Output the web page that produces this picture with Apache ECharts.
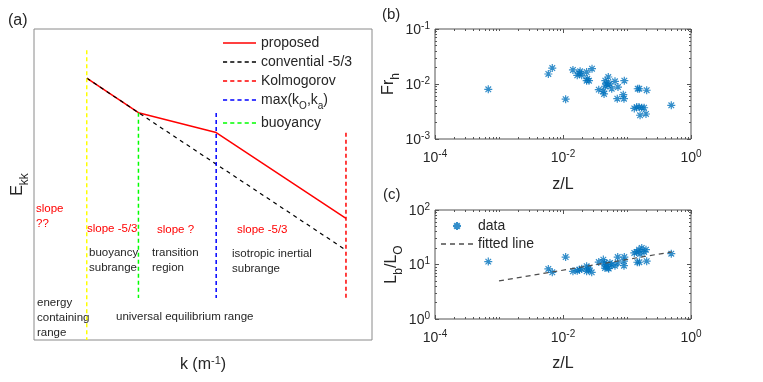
<!DOCTYPE html>
<html><head><meta charset="utf-8">
<script src="https://cdn.jsdelivr.net/npm/echarts@6/dist/echarts.min.js"></script>
<style>html,body{margin:0;padding:0;background:#fff}#c{width:763px;height:382px}</style>
</head><body><div id="c"></div>
<script>
// ---------- Panel (a): schematic spectrum (arbitrary units 0..100) ----------
const proposedK = [15.6, 30.9, 53.9, 92.3];
const proposedE = [84.2, 73.1, 66.7, 39.1];
const conventionalK = [15.6, 30.9, 92.3];
const conventionalE = [84.2, 73.1, 28.9];
const boundaryNames = ['energy boundary', 'buoyancy', 'max(kO,ka)', 'Kolmogorov'];
const boundaryK = [15.6, 30.9, 53.9, 92.3];
const boundaryTop = [93.2, 73.1, 73.0, 66.6];
const boundaryBottom = [0, 13.5, 13.5, 13.5];

// ---------- Panel (b): Fr_h vs z/L ----------
const frZ = [6.8e-4, 5.9e-3, 6.8e-3, 0.0110, 0.0143, 0.0167, 0.0180, 0.0196, 0.0185, 0.0234, 0.0284, 0.0240, 0.0255, 0.0234, 0.0362, 0.0438, 0.0427, 0.0458, 0.0510, 0.0482, 0.0542, 0.0505, 0.0577, 0.0453, 0.0649, 0.0723, 0.0908, 0.0705, 0.0875, 0.0897, 0.147, 0.156, 0.203, 0.130, 0.142, 0.154, 0.170, 0.185, 0.160, 0.198, 0.492];
const frH = [8.0e-3, 0.0152, 0.0195, 5.3e-3, 0.0180, 0.0144, 0.0158, 0.0144, 0.0170, 0.0165, 0.0190, 0.0125, 0.0115, 0.0115, 7.9e-3, 6.6e-3, 7.4e-3, 0.0115, 0.0134, 0.0101, 0.0100, 9.5e-3, 8.2e-3, 9.1e-3, 0.0112, 8.8e-3, 0.0115, 5.4e-3, 6.4e-3, 5.4e-3, 8.2e-3, 8.2e-3, 7.7e-3, 3.6e-3, 3.8e-3, 3.8e-3, 3.7e-3, 3.7e-3, 2.7e-3, 2.85e-3, 4.1e-3];

// ---------- Panel (c): Lb/LO vs z/L ----------
const lbZ = [6.8e-4, 5.9e-3, 6.8e-3, 0.0110, 0.0143, 0.0180, 0.0167, 0.0196, 0.0234, 0.0248, 0.0234, 0.0281, 0.0255, 0.0362, 0.0427, 0.0442, 0.0458, 0.0510, 0.0482, 0.0542, 0.0518, 0.0577, 0.0453, 0.0649, 0.0716, 0.0716, 0.0908, 0.0897, 0.0897, 0.130, 0.142, 0.154, 0.170, 0.185, 0.198, 0.160, 0.145, 0.156, 0.203, 0.492];
const lbRatio = [11.3, 8.3, 7.2, 13.7, 7.5, 8.0, 7.7, 8.4, 9.3, 8.0, 7.5, 7.2, 8.6, 11.1, 12.3, 10.7, 9.3, 8.6, 9.9, 10.7, 8.4, 9.9, 8.6, 9.5, 10.7, 13.7, 13.7, 11.5, 9.5, 16.3, 17.0, 18.7, 20.1, 17.0, 18.7, 15.6, 11.0, 11.0, 11.5, 15.8];
const fitZ = [0.001, 0.5];
const fitRatio = [5.0, 17.0];

// ---------- tick labels ----------
const zLabelTicks = [1e-4, 1e-2, 1];
const frLabelTicks = [1e-3, 1e-2, 1e-1];
const lbLabelTicks = [1, 10, 100];

const FONT = '"Liberation Sans", Arial, Helvetica, sans-serif';
const TXT = '#262626';
const AX = '#555555';
const BLUE = '#0072BD';

function minors(lo, hi, majorsExp) {
  const out = [];
  for (let d = lo; d < hi; d++) {
    for (let m = 1; m <= 9; m++) {
      if (m === 1 && majorsExp.indexOf(d) >= 0) continue;
      out.push(+(m * Math.pow(10, d)).toPrecision(3));
    }
  }
  return out;
}
function dashIcon(w, dash, gap, h) {
  let p = '';
  for (let x = 0; x < w; x += dash + gap) {
    const len = Math.min(dash, w - x);
    p += 'M' + x + ',0h' + len + 'v' + h + 'h' + (-len) + 'z';
  }
  return 'path://' + p;
}
const solidIcon = (w, h) => 'path://M0,0h' + w + 'v' + h + 'h' + (-w) + 'z';
const zip = (a, b) => a.map((v, i) => [v, b[i]]);
const pow10 = v => '{b|10}{p|' + Math.round(Math.log10(v)) + '}';
const supRichX = {
  b: {fontSize: 14, fontFamily: FONT, color: TXT, lineHeight: 16, padding: [4, 0, 0, 0], verticalAlign: 'bottom'},
  p: {fontSize: 10, fontFamily: FONT, color: TXT, lineHeight: 10, verticalAlign: 'top'}
};
const supRichY = {
  b: {fontSize: 14, fontFamily: FONT, color: TXT, lineHeight: 16, padding: [5, 0, 0, 0], verticalAlign: 'bottom'},
  p: {fontSize: 10, fontFamily: FONT, color: TXT, lineHeight: 10, verticalAlign: 'top'}
};
const subRich = (size) => ({
  b: {fontSize: size, fontFamily: FONT, color: TXT, lineHeight: size + 2, verticalAlign: 'top'},
  s: {fontSize: Math.round(size * 0.72), fontFamily: FONT, color: TXT, lineHeight: Math.round(size * 0.72), padding: [Math.round(size * 0.55), 0, 0, 0], verticalAlign: 'top'},
  p: {fontSize: Math.round(size * 0.72), fontFamily: FONT, color: TXT, lineHeight: Math.round(size * 0.72), verticalAlign: 'top'}
});

const grids = [], xAxes = [], yAxes = [];
function addLogPanel(p) {
  const gMain = grids.length;
  grids.push(Object.assign({show: true, borderColor: AX, borderWidth: 1, backgroundColor: 'transparent'}, p.rect));
  const gMinor = grids.length;
  grids.push(Object.assign({show: false}, p.rect));
  const base = {type: 'log', logBase: 10, axisLine: {show: false}, splitLine: {show: false}};
  const tick = (vals, len) => ({show: true, inside: true, length: len, lineStyle: {color: AX, width: 1}, customValues: vals});
  const xMain = xAxes.length;
  xAxes.push(Object.assign({}, base, {gridIndex: gMain, min: p.xMin, max: p.xMax, position: 'bottom',
    axisTick: tick(p.xMajors, 4),
    axisLabel: {customValues: p.xMajors, formatter: pow10, rich: supRichX, margin: 10},
    name: p.xName, nameLocation: 'middle', nameGap: p.xNameGap,
    nameTextStyle: {fontSize: 16, fontFamily: FONT, color: TXT}}));
  xAxes.push(Object.assign({}, base, {gridIndex: gMain, min: p.xMin, max: p.xMax, position: 'top',
    axisTick: tick(p.xMajors, 4), axisLabel: {show: false}}));
  xAxes.push(Object.assign({}, base, {gridIndex: gMinor, min: p.xMin, max: p.xMax, position: 'bottom',
    axisTick: tick(p.xMinors, 2), axisLabel: {show: false}}));
  xAxes.push(Object.assign({}, base, {gridIndex: gMinor, min: p.xMin, max: p.xMax, position: 'top',
    axisTick: tick(p.xMinors, 2), axisLabel: {show: false}}));
  const yMain = yAxes.length;
  yAxes.push(Object.assign({}, base, {gridIndex: gMain, min: p.yMin, max: p.yMax, position: 'left',
    axisTick: tick(p.yMajors, 4),
    axisLabel: {customValues: p.yMajors, formatter: pow10, rich: supRichY, margin: 5},
    name: p.yName, nameLocation: 'middle', nameGap: p.yNameGap,
    nameTextStyle: {rich: subRich(16)}}));
  yAxes.push(Object.assign({}, base, {gridIndex: gMain, min: p.yMin, max: p.yMax, position: 'right',
    axisTick: tick(p.yMajors, 4), axisLabel: {show: false}}));
  yAxes.push(Object.assign({}, base, {gridIndex: gMinor, min: p.yMin, max: p.yMax, position: 'left',
    axisTick: tick(p.yMinors, 2), axisLabel: {show: false}}));
  yAxes.push(Object.assign({}, base, {gridIndex: gMinor, min: p.yMin, max: p.yMax, position: 'right',
    axisTick: tick(p.yMinors, 2), axisLabel: {show: false}}));
  return {x: xMain, y: yMain};
}

// Panel (a) grid
grids.push({left: 34, top: 29, width: 338, height: 311, show: true, borderColor: '#8a8a8a', borderWidth: 1, backgroundColor: 'transparent'});
xAxes.push({gridIndex: 0, type: 'value', min: 0, max: 100, axisLine: {show: false}, axisTick: {show: false}, axisLabel: {show: false}, splitLine: {show: false},
  name: '{b|k (m}{p|-1}{b|)}', nameLocation: 'middle', nameGap: 15,
  nameTextStyle: {rich: {
    b: {fontSize: 16, fontFamily: FONT, color: TXT, lineHeight: 18, padding: [4, 0, 0, 0], verticalAlign: 'bottom'},
    p: {fontSize: 11, fontFamily: FONT, color: TXT, lineHeight: 11, verticalAlign: 'top'}}}});
yAxes.push({gridIndex: 0, type: 'value', min: 0, max: 100, axisLine: {show: false}, axisTick: {show: false}, axisLabel: {show: false}, splitLine: {show: false},
  name: '{b|E}{s|kk}', nameLocation: 'middle', nameGap: 6, nameTextStyle: {rich: subRich(16)}});

const xMin = minors(-4, 0, [-4, -2]);
const bIdx = addLogPanel({rect: {left: 435, top: 29, width: 256, height: 110}, xMin: 1e-4, xMax: 1, yMin: 1e-3, yMax: 1e-1,
  xMajors: zLabelTicks, yMajors: frLabelTicks, xMinors: xMin, yMinors: minors(-3, -1, [-3, -2]),
  xName: 'z/L', xNameGap: 38, yName: '{b|Fr}{s|h}', yNameGap: 33});
const cIdx = addLogPanel({rect: {left: 435, top: 210, width: 256, height: 109}, xMin: 1e-4, xMax: 1, yMin: 1, yMax: 100,
  xMajors: zLabelTicks, yMajors: lbLabelTicks, xMinors: xMin, yMinors: minors(0, 2, [0, 1]),
  xName: 'z/L', xNameGap: 37, yName: '{b|L}{s|b}{b|/L}{s|O}', yNameGap: 33});

const asterisk = 'path://M5,0L5,10M0,5L10,5M1.5,1.5L8.5,8.5M1.5,8.5L8.5,1.5';
const dashV = [4, 3];
const series = [
  {name: 'proposed', type: 'line', xAxisIndex: 0, yAxisIndex: 0, data: zip(proposedK, proposedE), symbol: 'none',
    lineStyle: {color: '#FF0000', width: 1.5}, itemStyle: {color: '#FF0000'}},
  {name: 'convential -5/3', type: 'line', xAxisIndex: 0, yAxisIndex: 0, data: zip(conventionalK, conventionalE), symbol: 'none',
    lineStyle: {color: '#000000', width: 1.2, type: [4, 4]}, itemStyle: {color: '#000000'}}
];
const boundaryColors = ['#FFFF00', '#00FF00', '#0000FF', '#FF0000'];
boundaryNames.forEach((n, i) => {
  series.push({name: n, type: 'line', xAxisIndex: 0, yAxisIndex: 0, symbol: 'none',
    data: [[boundaryK[i], boundaryTop[i]], [boundaryK[i], boundaryBottom[i]]],
    lineStyle: {color: boundaryColors[i], width: 1.5, type: dashV}, itemStyle: {color: boundaryColors[i]}});
});
series.push({name: 'Fr', type: 'scatter', xAxisIndex: bIdx.x, yAxisIndex: bIdx.y, data: zip(frZ, frH),
  symbol: asterisk, symbolSize: 8, itemStyle: {color: BLUE, borderColor: BLUE, borderWidth: 1.2}});
series.push({name: 'data', type: 'scatter', xAxisIndex: cIdx.x, yAxisIndex: cIdx.y, data: zip(lbZ, lbRatio),
  symbol: asterisk, symbolSize: 8, itemStyle: {color: BLUE, borderColor: BLUE, borderWidth: 1.2}});
series.push({name: 'fitted line', type: 'line', xAxisIndex: cIdx.x, yAxisIndex: cIdx.y, data: zip(fitZ, fitRatio),
  symbol: 'none', lineStyle: {color: '#4d4d4d', width: 1.2, type: [5, 4]}, itemStyle: {color: '#4d4d4d'}});

const annot = (text, left, top, color) => ({type: 'text', left, top,
  style: {text, fill: color, fontSize: 11.5, fontFamily: FONT, lineHeight: 15}});
const RED = '#FF0000';
const graphic = [
  annot('slope\n??', 36, 201, RED),
  annot('slope -5/3', 87, 221, RED),
  annot('slope ?', 157, 222, RED),
  annot('slope -5/3', 237, 222, RED),
  annot('buoyancy\nsubrange', 89, 245, TXT),
  annot('transition\nregion', 152, 245, TXT),
  annot('isotropic inertial\nsubrange', 232, 246, TXT),
  annot('energy\ncontaining\nrange', 37, 295, TXT),
  annot('universal equilibrium range', 116, 309, TXT),
  {type: 'text', left: 8, top: 13, style: {text: '(a)', fill: TXT, fontSize: 16, fontFamily: FONT}},
  {type: 'text', left: 382, top: 7, style: {text: '(b)', fill: TXT, fontSize: 15, fontFamily: FONT}},
  {type: 'text', left: 383, top: 187, style: {text: '(c)', fill: TXT, fontSize: 15, fontFamily: FONT}}
];

const solid = solidIcon(33, 1.6);
const dashA = dashIcon(33, 4, 3, 1.3);
const chart = echarts.init(document.getElementById('c'), null, {renderer: 'canvas'});
chart.setOption({
  animation: false,
  backgroundColor: '#ffffff',
  grid: grids, xAxis: xAxes, yAxis: yAxes, series, graphic,
  legend: [
    {data: [{name: 'proposed', icon: solid}, {name: 'convential -5/3', icon: dashA}, {name: 'Kolmogorov', icon: dashA},
            {name: 'max(kO,ka)', icon: dashA}, {name: 'buoyancy', icon: dashA}],
      orient: 'vertical', left: 223, top: 36, padding: 0,
      itemWidth: 33, itemHeight: 14, itemGap: 5, selectedMode: false, itemStyle: {borderWidth: 0},
      textStyle: {fontSize: 14, fontFamily: FONT, color: TXT, lineHeight: 14,
        rich: {t: {fontSize: 14, fontFamily: FONT, color: TXT, lineHeight: 14, verticalAlign: 'top'},
               s: {fontSize: 10, fontFamily: FONT, color: TXT, lineHeight: 10, padding: [8, 0, 0, 0], verticalAlign: 'top'}}},
      formatter: n => n === 'max(kO,ka)' ? '{t|max(k}{s|O}{t|,k}{s|a}{t|)}' : n},
    {data: [{name: 'data'}, {name: 'fitted line', icon: dashIcon(32, 5, 4, 1.3), itemStyle: {borderWidth: 0}}],
      orient: 'vertical', left: 441, top: 219, padding: 0, itemWidth: 32, itemHeight: 8, itemGap: 4,
      selectedMode: false, textStyle: {fontSize: 14, fontFamily: FONT, color: TXT, lineHeight: 14}}
  ]
});
</script></body></html>
